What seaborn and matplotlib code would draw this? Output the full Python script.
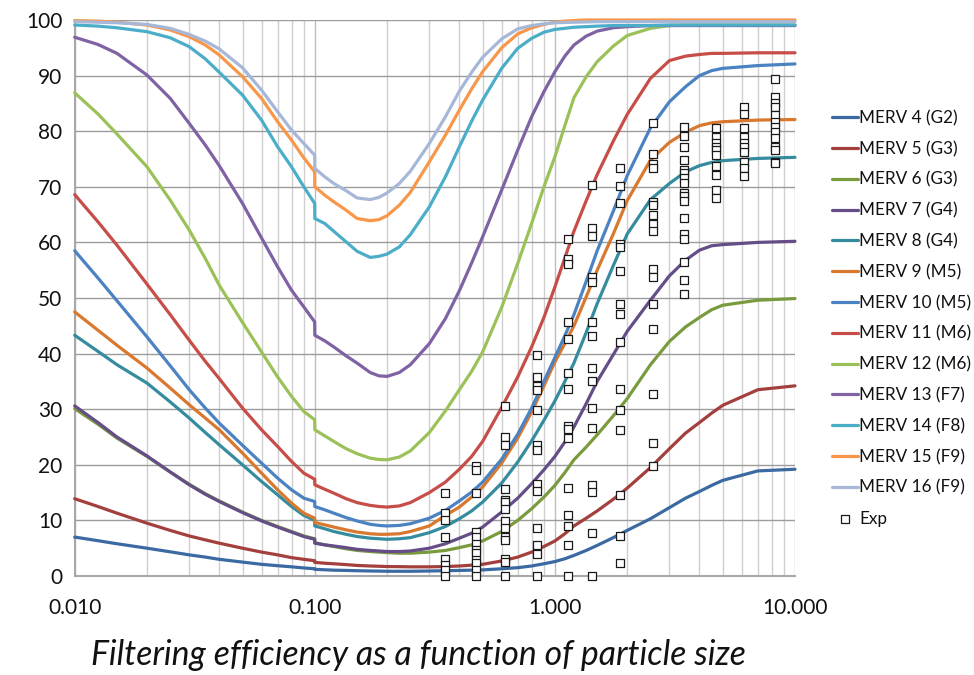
import numpy as np
import pandas as pd
import matplotlib
matplotlib.use("Agg")
import matplotlib.pyplot as plt
import seaborn as sns
from matplotlib.ticker import FixedLocator, FuncFormatter, NullFormatter

# ---------------- data ----------------
particle_size = [0.01, 0.0125, 0.015, 0.02, 0.025, 0.03, 0.035, 0.04, 0.05, 0.06, 0.07, 0.08,
                 0.09, 0.0999,
                 0.1, 0.11, 0.12, 0.135, 0.15, 0.17, 0.185, 0.2, 0.225, 0.25, 0.3, 0.35, 0.4,
                 0.45, 0.5, 0.6, 0.7, 0.8, 0.9, 1.0, 1.1, 1.2, 1.35, 1.5, 1.75, 2.0, 2.5, 3.0,
                 3.5, 4.0, 4.5, 5.0, 7.0, 10.0]

filter_names = ["MERV 4 (G2)", "MERV 5 (G3)", "MERV 6 (G3)", "MERV 7 (G4)", "MERV 8 (G4)",
                "MERV 9 (M5)", "MERV 10 (M5)", "MERV 11 (M6)", "MERV 12 (M6)", "MERV 13 (F7)",
                "MERV 14 (F8)", "MERV 15 (F9)", "MERV 16 (F9)"]

merv4 = [7.0, 6.35, 5.8, 5.0, 4.35, 3.8, 3.4, 3.0, 2.5, 2.1, 1.85, 1.65, 1.45, 1.3,
         1.2, 1.12, 1.05, 1.0, 0.95, 0.9, 0.88, 0.85, 0.85, 0.85, 0.9, 0.95, 1.0, 1.05, 1.1, 1.3,
         1.5, 1.8, 2.2, 2.6, 3.1, 3.7, 4.6, 5.5, 6.9, 8.2, 10.3, 12.3, 14.0, 15.2, 16.3, 17.2,
         18.9, 19.2]
merv5 = [13.9, 12.5, 11.3, 9.5, 8.2, 7.2, 6.5, 5.9, 5.0, 4.3, 3.8, 3.3, 3.0, 2.75,
         2.45, 2.3, 2.2, 2.05, 1.9, 1.8, 1.75, 1.7, 1.68, 1.65, 1.65, 1.7, 1.8, 1.95, 2.1, 2.7,
         3.4, 4.3, 5.3, 6.3, 7.6, 9.0, 10.4, 11.7, 13.8, 15.8, 19.5, 22.9, 25.7, 27.6, 29.3, 30.7,
         33.5, 34.2]
merv6 = [30.1, 27.3, 24.8, 21.5, 18.7, 16.5, 14.8, 13.5, 11.5, 10.0, 8.9, 8.0, 7.2, 6.7,
         6.0, 5.6, 5.3, 4.9, 4.6, 4.4, 4.3, 4.2, 4.1, 4.1, 4.3, 4.6, 5.1, 5.6, 6.3, 8.0,
         10.0, 12.1, 14.2, 16.3, 18.6, 20.9, 23.2, 25.4, 28.8, 31.9, 38.0, 42.2, 44.8, 46.5, 47.9,
         48.7, 49.6, 49.9]
merv7 = [30.6, 27.6, 25.0, 21.6, 18.7, 16.4, 14.7, 13.4, 11.4, 9.9, 8.8, 7.9, 7.1, 6.6,
         5.9, 5.6, 5.4, 5.1, 4.8, 4.6, 4.5, 4.4, 4.4, 4.5, 5.0, 5.8, 6.8, 7.7, 8.8, 11.5,
         14.0, 16.6, 19.1, 21.5, 24.1, 26.8, 31.0, 35.0, 39.8, 44.0, 49.6, 54.0, 56.8, 58.6, 59.4,
         59.6, 60.0, 60.2]
merv8 = [43.3, 40.4, 38.0, 34.7, 31.3, 28.4, 25.8, 23.6, 20.0, 17.0, 14.6, 12.5, 10.9, 10.0,
         9.0, 8.5, 8.0, 7.5, 7.1, 6.8, 6.7, 6.6, 6.7, 6.9, 7.8, 8.9, 10.3, 11.7, 13.3, 16.7,
         20.5, 24.3, 28.0, 31.5, 35.0, 38.3, 43.8, 49.0, 55.8, 61.5, 67.7, 70.6, 72.7, 73.8, 74.4,
         74.7, 75.1, 75.3]
merv9 = [47.5, 44.2, 41.5, 37.4, 33.8, 30.8, 28.4, 26.3, 22.1, 18.5, 15.5, 13.1, 11.3, 10.4,
         9.6, 9.2, 8.8, 8.3, 7.9, 7.6, 7.5, 7.5, 7.6, 8.0, 9.0, 10.9, 12.4, 14.2, 16.0, 20.3,
         24.8, 29.5, 34.2, 38.5, 41.8, 45.0, 50.2, 55.0, 61.5, 67.5, 74.8, 78.0, 79.8, 81.0, 81.5,
         81.7, 82.0, 82.1]
merv10 = [58.5, 53.6, 49.5, 43.0, 37.8, 33.5, 30.2, 27.5, 23.5, 20.3, 17.6, 15.5, 14.0, 13.4,
          12.5, 11.9, 11.3, 10.5, 9.9, 9.3, 9.1, 9.0, 9.1, 9.4, 10.4, 11.8, 13.5, 15.1, 16.9, 21.0,
          25.5, 30.2, 35.0, 39.3, 43.2, 47.0, 53.0, 58.5, 65.6, 72.0, 80.6, 85.3, 88.0, 90.0, 90.9,
          91.3, 91.8, 92.1]
merv11 = [68.6, 63.7, 59.5, 52.5, 47.0, 42.4, 38.6, 35.5, 30.2, 26.3, 23.3, 20.6, 18.5, 17.4,
          16.4, 15.6, 14.9, 13.9, 13.2, 12.7, 12.5, 12.4, 12.6, 13.2, 15.0, 16.9, 19.2, 21.5, 24.2,
          30.3, 35.8, 41.2, 46.5, 52.0, 57.2, 62.0, 67.5, 72.2, 78.2, 83.0, 89.5, 92.7, 93.5, 93.8,
          94.0, 94.0, 94.1, 94.1]
merv12 = [86.9, 83.1, 79.5, 73.6, 67.6, 62.2, 57.1, 52.3, 45.6, 40.3, 35.8, 32.3, 29.6, 28.1,
          26.3, 25.2, 24.2, 22.9, 22.0, 21.2, 20.95, 20.9, 21.4, 22.5, 25.8, 29.7, 33.5, 36.8, 40.3,
          48.3, 56.2, 63.4, 70.0, 75.4, 81.0, 86.0, 89.8, 92.5, 95.3, 97.2, 98.5, 99.0, 99.1, 99.1,
          99.1, 99.1, 99.1, 99.1]
merv13 = [96.9, 95.6, 94.0, 90.1, 85.9, 81.4, 77.5, 73.8, 67.0, 60.8, 55.6, 51.4, 48.4, 45.7,
          43.3, 42.3, 41.2, 39.6, 38.3, 36.6, 36.0, 35.9, 36.6, 38.0, 41.8, 46.3, 51.3, 56.3, 61.0,
          69.4, 76.6, 82.6, 87.1, 90.7, 93.5, 95.5, 97.1, 98.0, 98.6, 98.8, 99.0, 99.0, 99.0, 99.0,
          99.0, 99.0, 99.0, 99.0]
merv14 = [99.1, 98.9, 98.6, 97.9, 96.8, 95.2, 93.0, 90.6, 86.5, 82.0, 77.2, 73.6, 70.0, 67.0,
          64.3, 63.4, 62.0, 60.1, 58.4, 57.3, 57.5, 57.9, 59.2, 61.4, 66.4, 71.8, 77.2, 81.8, 85.6,
          91.3, 94.9, 96.7, 97.8, 98.3, 98.5, 98.7, 98.8, 98.9, 99.0, 99.0, 99.0, 99.1, 99.1, 99.1,
          99.1, 99.1, 99.1, 99.1]
merv15 = [99.9, 99.8, 99.6, 99.1, 98.2, 97.0, 95.5, 93.7, 89.8, 85.9, 81.7, 78.4, 75.2, 72.7,
          70.0, 68.5, 67.3, 65.8, 64.3, 63.9, 64.1, 64.8, 66.7, 69.0, 74.5, 79.3, 83.8, 87.6, 90.7,
          95.0, 97.5, 98.6, 99.2, 99.6, 99.8, 99.9, 100, 100, 100, 100, 100, 100, 100, 100,
          100, 100, 100, 100]
merv16 = [99.7, 99.6, 99.5, 99.2, 98.5, 97.4, 96.2, 94.8, 91.4, 87.4, 83.5, 80.2, 77.8, 75.7,
          73.3, 71.8, 70.6, 69.3, 68.0, 67.7, 68.1, 68.9, 70.6, 72.8, 77.8, 82.6, 87.2, 90.6, 93.3,
          96.6, 98.4, 99.0, 99.3, 99.5, 99.55, 99.6, 99.65, 99.7, 99.7, 99.7, 99.7, 99.7, 99.7, 99.7,
          99.7, 99.7, 99.7, 99.7]

series_values = [merv4, merv5, merv6, merv7, merv8, merv9, merv10, merv11, merv12, merv13,
                 merv14, merv15, merv16]

line_colors = ["#3B6AA3", "#A33F3C", "#7A9A3E", "#654E88", "#368C9F", "#D9782F", "#4A82C2",
               "#C64D48", "#9BC158", "#7F62A4", "#4BAEC8", "#F8974A", "#A6B7D8"]

# experimental points: size column and measured efficiencies
exp_sizes = [0.35, 0.47, 0.62, 0.84, 1.13, 1.43, 1.86, 2.56, 3.44, 4.67, 6.15, 8.28]
exp_values = [
    [14.9, 11.4, 10.0, 7.0, 3.0, 2.0, 1.0, 0.0],
    [19.8, 19.0, 14.9, 8.0, 7.0, 5.8, 4.6, 4.1, 2.8, 2.3, 1.1, 0.0],
    [30.5, 25.0, 23.5, 15.7, 13.6, 13.3, 12.0, 9.9, 8.6, 7.0, 6.4, 3.0, 2.6, 0.0],
    [39.7, 35.8, 34.2, 33.4, 29.8, 23.6, 22.6, 16.6, 15.2, 8.6, 5.6, 4.0, 0.0],
    [60.7, 57.0, 56.1, 45.7, 42.7, 36.6, 33.6, 27.0, 26.5, 24.8, 15.9, 10.9, 9.0, 5.6, 0.0],
    [70.3, 62.5, 61.1, 53.8, 52.9, 45.6, 43.2, 37.4, 35.0, 30.2, 26.6, 16.4, 15.1, 7.8, 0.0],
    [73.3, 70.1, 67.0, 59.7, 59.2, 54.9, 48.9, 47.2, 42.1, 33.7, 29.9, 26.2, 14.6, 7.2, 2.4],
    [81.5, 75.9, 74.1, 73.3, 67.2, 66.8, 64.9, 63.3, 62.0, 55.2, 53.7, 48.9, 44.4, 32.7, 24.0, 19.7],
    [80.8, 79.1, 77.1, 74.8, 73.0, 72.4, 71.6, 70.7, 68.9, 68.4, 67.4, 64.3, 61.6, 60.6, 56.4, 53.2, 50.8],
    [80.5, 79.0, 77.9, 77.2, 76.6, 75.7, 73.7, 72.1, 69.4, 68.0],
    [84.4, 83.1, 80.5, 79.0, 77.8, 77.1, 76.3, 74.5, 73.3, 71.9],
    [89.4, 86.2, 85.1, 84.4, 82.9, 81.7, 80.7, 79.9, 78.8, 77.1, 76.6, 74.5, 74.2],
]

x_ticks = [0.01, 0.1, 1.0, 10.0]
y_ticks = [0, 10, 20, 30, 40, 50, 60, 70, 80, 90, 100]
title_text = "Filtering efficiency as a function of particle size"

# ---------------- tables ----------------
curves = pd.DataFrame({
    "size": np.tile(particle_size, len(filter_names)),
    "eff": np.concatenate(series_values),
    "filter": np.repeat(filter_names, len(particle_size)),
})
exp_df = pd.DataFrame({
    "size": np.concatenate([[s] * len(v) for s, v in zip(exp_sizes, exp_values)]),
    "eff": np.concatenate(exp_values),
})

# ---------------- figure ----------------
sns.set_style("white")
plt.rcParams["font.family"] = ["Lato", "DejaVu Sans"]

fig = plt.figure(figsize=(9.74, 6.75), dpi=100)
ax = fig.add_axes([74.7 / 974, 99 / 675, (795 - 74.7) / 974, 556 / 675])

sns.lineplot(data=curves, x="size", y="eff", hue="filter", hue_order=filter_names,
             palette=line_colors, estimator=None, sort=False, linewidth=2.3,
             legend=False, ax=ax, clip_on=False, zorder=3)
sns.scatterplot(data=exp_df, x="size", y="eff", marker="s", s=28, color="white",
                edgecolor="#1a1a1a", linewidth=0.9, legend=False, ax=ax,
                clip_on=False, zorder=5)

ax.set_xscale("log")
ax.set_xlim(0.01, 10)
ax.set_ylim(0, 100)
ax.xaxis.set_major_locator(FixedLocator(x_ticks))
ax.xaxis.set_major_formatter(FuncFormatter(lambda v, p: f"{v:.3f}"))
ax.xaxis.set_minor_locator(FixedLocator([m * d for d in (0.01, 0.1, 1.0) for m in range(2, 10)]))
ax.xaxis.set_minor_formatter(NullFormatter())
ax.yaxis.set_major_locator(FixedLocator(y_ticks))
ax.set_xlabel("")
ax.set_ylabel("")

ax.grid(which="major", axis="y", color="#9c9c9c", linewidth=1.0, zorder=0)
ax.grid(which="major", axis="x", color="#bdbdbd", linewidth=1.0, zorder=0)
ax.grid(which="minor", axis="x", color="#cfcfcf", linewidth=1.0, zorder=0)
ax.set_axisbelow(True)

for side in ("top", "right"):
    ax.spines[side].set_visible(False)
for side in ("left", "bottom"):
    ax.spines[side].set_color("#a8a8a8")
    ax.spines[side].set_linewidth(1.5)

ax.tick_params(axis="both", which="major", length=6, width=1, color="#a8a8a8",
               labelsize=15, labelcolor="#111111")
ax.tick_params(axis="x", which="major", pad=10)
ax.tick_params(axis="y", which="major", pad=3)
ax.tick_params(axis="x", which="minor", length=0)

handles = list(ax.lines[:len(filter_names)]) + [ax.collections[-1]]
labels = filter_names + ["Exp"]
fig.legend(handles, labels, loc="upper left", bbox_to_anchor=(832 / 974, 1 - 110 / 675),
           frameon=False, fontsize=12.3, handlelength=1.5, handletextpad=0.1,
           labelspacing=0.86, borderaxespad=0, borderpad=0, labelcolor="#111111")

fig.text(0.43, 1 - 655 / 675, title_text, ha="center", va="center",
         fontsize=24.3, style="italic", color="#111111")

fig.savefig("out.png", dpi=100)
